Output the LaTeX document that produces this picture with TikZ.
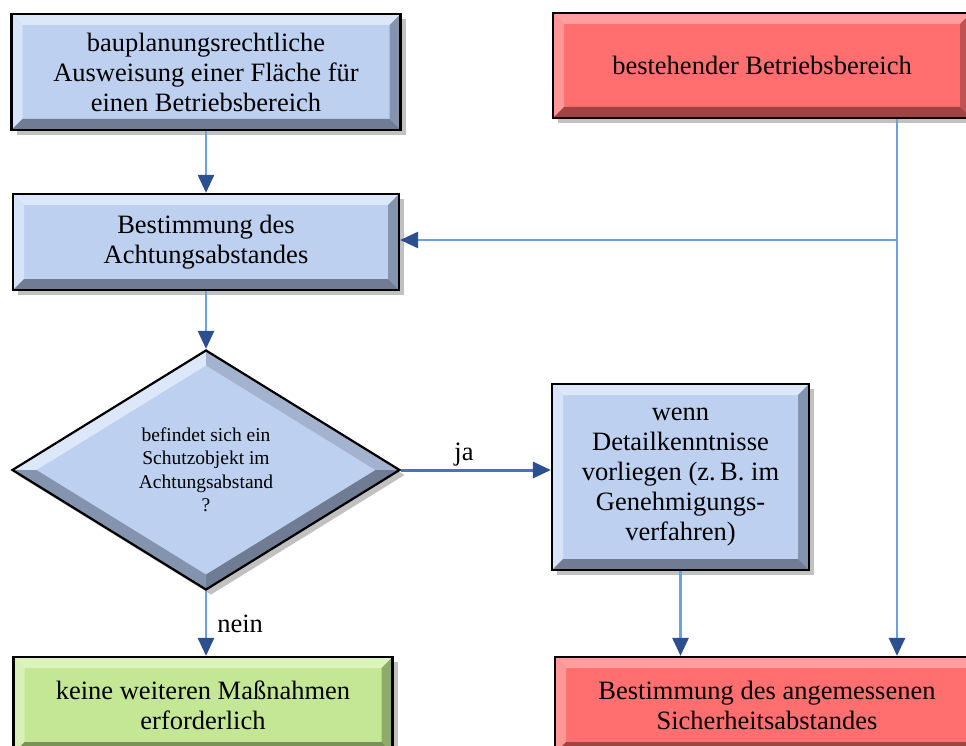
\documentclass[tikz,border=0pt]{standalone}
\usepackage{fontspec}
\setmainfont{Liberation Serif}
\usetikzlibrary{shapes.geometric}
\usetikzlibrary{arrows.meta}
\usetikzlibrary{shadows}

\definecolor{blauFl}{HTML}{BDD0F0}
\definecolor{blauHell}{HTML}{DCE7FA}
\definecolor{blauSeite}{HTML}{8494AE}
\definecolor{blauDunkel}{HTML}{6F7C93}
\definecolor{rotFl}{HTML}{FF6F6F}
\definecolor{rotHell}{HTML}{FF9E9E}
\definecolor{rotSeite}{HTML}{BF5252}
\definecolor{rotDunkel}{HTML}{A04343}
\definecolor{gruenFl}{HTML}{C3E794}
\definecolor{gruenHell}{HTML}{DDF3BE}
\definecolor{gruenSeite}{HTML}{90AA6C}
\definecolor{gruenDunkel}{HTML}{7A915A}
\definecolor{rauteMitte}{HTML}{A3B3CF}
\definecolor{linie}{HTML}{6E9FE6}
\definecolor{linieJa}{HTML}{4472C4}
\definecolor{spitze}{HTML}{2B4F8F}

\newcommand\bev{11pt}
\newcommand\boxfont{\fontsize{26.5}{30}\selectfont}
\newcommand\rautefont{\fontsize{19.5}{23.5}\selectfont}

\tikzset{
  schatten/.style={drop shadow={shadow xshift=5pt, shadow yshift=-5pt, opacity=.35, fill=black!70}},
  bevelbox/.style n args={4}{rectangle, draw=black, line width=2.2pt, fill=#1,
    schatten, align=center, font=\boxfont, inner sep=0pt,
    path picture={
      \def\pp{path picture bounding box}
      \fill[#2] (\pp.north west) -- (\pp.north east)
        -- ([xshift=-\bev,yshift=-\bev]\pp.north east)
        -- ([xshift=\bev,yshift=-\bev]\pp.north west) -- cycle;
      \fill[#2!85!#1] (\pp.north west) -- ([xshift=\bev,yshift=-\bev]\pp.north west)
        -- ([xshift=\bev,yshift=\bev]\pp.south west) -- (\pp.south west) -- cycle;
      \fill[#3] (\pp.north east) -- (\pp.south east)
        -- ([xshift=-\bev,yshift=\bev]\pp.south east)
        -- ([xshift=-\bev,yshift=-\bev]\pp.north east) -- cycle;
      \fill[#4] (\pp.south west) -- (\pp.south east)
        -- ([xshift=-\bev,yshift=\bev]\pp.south east)
        -- ([xshift=\bev,yshift=\bev]\pp.south west) -- cycle;
    }},
  blaubox/.style={bevelbox={blauFl}{blauHell}{blauSeite}{blauDunkel}},
  rotbox/.style={bevelbox={rotFl}{rotHell}{rotSeite}{rotDunkel}},
  gruenbox/.style={bevelbox={gruenFl}{gruenHell}{gruenSeite}{gruenDunkel}},
  raute/.style={diamond, aspect=1.62, draw=black, line width=2.2pt, fill=blauFl,
    schatten, align=center, font=\rautefont, inner sep=0pt,
    minimum width=388pt, minimum height=240pt,
    path picture={
      \def\pp{path picture bounding box}
      \fill[blauHell] (\pp.west) -- (\pp.north) -- ([yshift=-15pt]\pp.north)
        -- ([xshift=24pt]\pp.west) -- cycle;
      \fill[rauteMitte] (\pp.north) -- (\pp.east) -- ([xshift=-24pt]\pp.east)
        -- ([yshift=-15pt]\pp.north) -- cycle;
      \fill[blauDunkel] (\pp.east) -- (\pp.south) -- ([yshift=15pt]\pp.south)
        -- ([xshift=-24pt]\pp.east) -- cycle;
      \fill[blauSeite] (\pp.south) -- (\pp.west) -- ([xshift=24pt]\pp.west)
        -- ([yshift=15pt]\pp.south) -- cycle;
    }},
  pfeil/.style={draw=linie, line width=2.6pt,
    -{Triangle[length=18pt, width=16pt, color=spitze]}},
  marke/.style={font=\boxfont, inner sep=2pt}
}

\begin{document}
\begin{tikzpicture}[x=1pt, y=-1pt]
    \path[use as bounding box, clip] (0,0) rectangle (966,746);
    % boxes
    \node[blaubox, minimum width=389pt, minimum height=116pt] (ausweisung) at (206, 72)
      {bauplanungsrechtliche\\Ausweisung einer Fläche für\\einen Betriebsbereich};
    \node[rotbox, minimum width=418pt, minimum height=105pt] (bestand) at (762, 65.5)
      {bestehender Betriebsbereich};
    \node[blaubox, minimum width=386pt, minimum height=96pt] (achtung) at (206, 242)
      {Bestimmung des\\Achtungsabstandes};
    \node[raute] (frage) at (206, 470)
      {befindet sich ein\\Schutzobjekt im\\Achtungsabstand\\?};
    \node[blaubox, minimum width=257pt, minimum height=186pt] (detail) at (680.5, 477)
      {wenn\\Detailkenntnisse\\vorliegen (z.\,B. im\\Genehmigungs-\\verfahren)};
    \node[gruenbox, minimum width=379pt, minimum height=96pt] (keine) at (203, 705)
      {keine weiteren Maßnahmen\\erforderlich};
    \node[rotbox, minimum width=424pt, minimum height=96pt] (sicher) at (767, 705)
      {Bestimmung des angemessenen\\Sicherheitsabstandes};
    \coordinate (knick) at (897, 240);
    % connectors
    \draw (ausweisung) edge[pfeil] (achtung);
    \draw (achtung) edge[pfeil] (frage);
    \draw (frage.east) edge[pfeil, draw=linieJa, line width=3pt]
      node[marke, above, pos=.42] {ja} (frage.east -| detail.west);
    \draw (frage.south) edge[pfeil] node[marke, right=8pt] {nein} (frage.south |- keine.north);
    \draw (detail.south) edge[pfeil] (detail.south |- sicher.north);
    \draw (bestand.south -| knick) edge[pfeil] (knick |- sicher.north);
    \draw (knick) edge[pfeil] (achtung.east |- knick);
  \end{tikzpicture}
\end{document}
